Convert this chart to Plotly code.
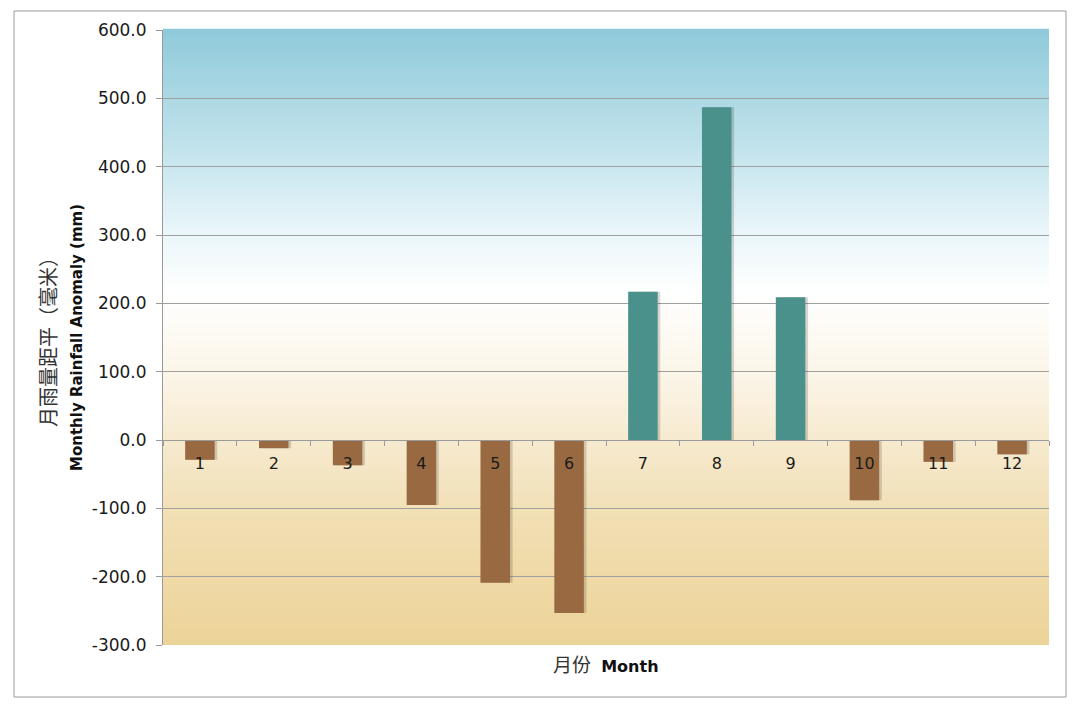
import plotly.graph_objects as go

months = [str(m) for m in range(1, 13)]
anomaly = [-29, -12, -37, -95, -209, -253, 217, 487, 209, -88, -32, -21]
y_ticks = [-300, -200, -100, 0, 100, 200, 300, 400, 500, 600]
y_tick_text = ["%.1f" % v for v in y_ticks]

POS_COLOR = "#4A918C"
NEG_COLOR = "#996A42"
colors = [POS_COLOR if v > 0 else NEG_COLOR for v in anomaly]

FONT = "DejaVu Sans, Noto Sans CJK SC, sans-serif"
CJK = "Noto Sans CJK SC, sans-serif"

# page has an 8px body margin; figure coordinates = page coordinates - 8
OFF = 8
W, H = 1082 - 2 * OFF, 709 - 2 * OFF
PL, PR, PT, PB = 163, 1049, 30, 645  # plot area in page pixels
L = PL - OFF
T = PT - OFF
R = W - (PR - OFF)
B = H - (PB - OFF)
plot_w = W - L - R
plot_h = H - T - B


def px_x(px):
    return (px - PL) / plot_w


def px_y(py):
    return (PB - py) / plot_h


fig = go.Figure()

# subtle drop shadow
fig.add_trace(go.Bar(
    x=months, y=anomaly, width=0.4, offset=-0.165,
    marker=dict(color="rgba(60,50,40,0.2)", line=dict(width=0)),
    hoverinfo="skip", showlegend=False,
))
fig.add_trace(go.Bar(
    x=months, y=anomaly, width=0.4, offset=-0.2,
    marker=dict(color=colors, line=dict(width=0)),
    showlegend=False,
))

# background gradient of plot area (fraction from bottom)
stops = [
    (0.00, (236, 211, 152)),
    (0.20, (241, 222, 178)),
    (0.333, (246, 234, 207)),
    (0.45, (252, 246, 234)),
    (0.57, (255, 255, 255)),
    (0.67, (234, 246, 250)),
    (0.80, (196, 228, 237)),
    (1.00, (143, 202, 218)),
]


def color_at(f):
    for (f0, c0), (f1, c1) in zip(stops[:-1], stops[1:]):
        if f0 <= f <= f1:
            t = (f - f0) / (f1 - f0) if f1 > f0 else 0
            return "rgb(%d,%d,%d)" % tuple(round(a + (b - a) * t) for a, b in zip(c0, c1))
    return "rgb(%d,%d,%d)" % stops[-1][1]


N = 180
shapes = []
for i in range(N):
    f0 = i / N
    f1 = (i + 1) / N
    shapes.append(dict(
        type="rect", xref="x domain", yref="y domain",
        x0=0, x1=1, y0=f0, y1=f1 + 0.002,
        fillcolor=color_at((f0 + f1) / 2), line=dict(width=0), layer="below",
    ))
# outer border
shapes.append(dict(
    type="rect", xref="paper", yref="paper",
    x0=px_x(14), x1=px_x(1066), y0=px_y(697), y1=px_y(11),
    line=dict(color="#9a9a9a", width=1), fillcolor="rgba(0,0,0,0)", layer="below",
))

fig.update_layout(
    width=W, height=H,
    margin=dict(l=L, r=R, t=T, b=B, pad=0),
    paper_bgcolor="white", plot_bgcolor="rgba(0,0,0,0)",
    barmode="overlay",
    shapes=shapes,
    font=dict(family=FONT, size=16, color="#1a1a1a"),
    xaxis=dict(
        type="category", anchor="free", position=px_y(440),
        showline=True, linecolor="#9a9a9a", linewidth=1,
        ticks="outside", ticklen=5, tickcolor="#9a9a9a", tickson="boundaries",
        ticklabelstandoff=9,
        showgrid=False, tickfont=dict(size=16, family=FONT, color="#1a1a1a"),
    ),
    yaxis=dict(
        range=[-300, 600], tickvals=y_ticks, ticktext=y_tick_text,
        showline=True, linecolor="#9a9a9a", linewidth=1,
        ticks="outside", ticklen=6, tickcolor="#9a9a9a",
        ticklabelstandoff=6,
        showgrid=True, gridcolor="#a0a0a0", gridwidth=1,
        zeroline=False, tickfont=dict(size=17, family=FONT, color="#1a1a1a"),
    ),
    annotations=[
        dict(text="月雨量距平（毫米）", xref="paper", yref="paper",
             x=px_x(47), y=px_y(337), textangle=-90, showarrow=False,
             font=dict(size=20, family=CJK, color="#333333"),
             xanchor="center", yanchor="middle"),
        dict(text="<b>Monthly Rainfall Anomaly (mm)</b>", xref="paper", yref="paper",
             x=px_x(77), y=px_y(338), textangle=-90, showarrow=False,
             font=dict(size=15, family=FONT, color="#111111"),
             xanchor="center", yanchor="middle"),
        dict(text="<span style='font-family:Noto Sans CJK SC;font-size:19px;color:#333'>月份</span>  <b>Month</b>",
             xref="paper", yref="paper",
             x=px_x(606), y=px_y(663), showarrow=False,
             font=dict(size=16, family=FONT, color="#111111"),
             xanchor="center", yanchor="middle"),
    ],
)

fig.write_html("out.html")
